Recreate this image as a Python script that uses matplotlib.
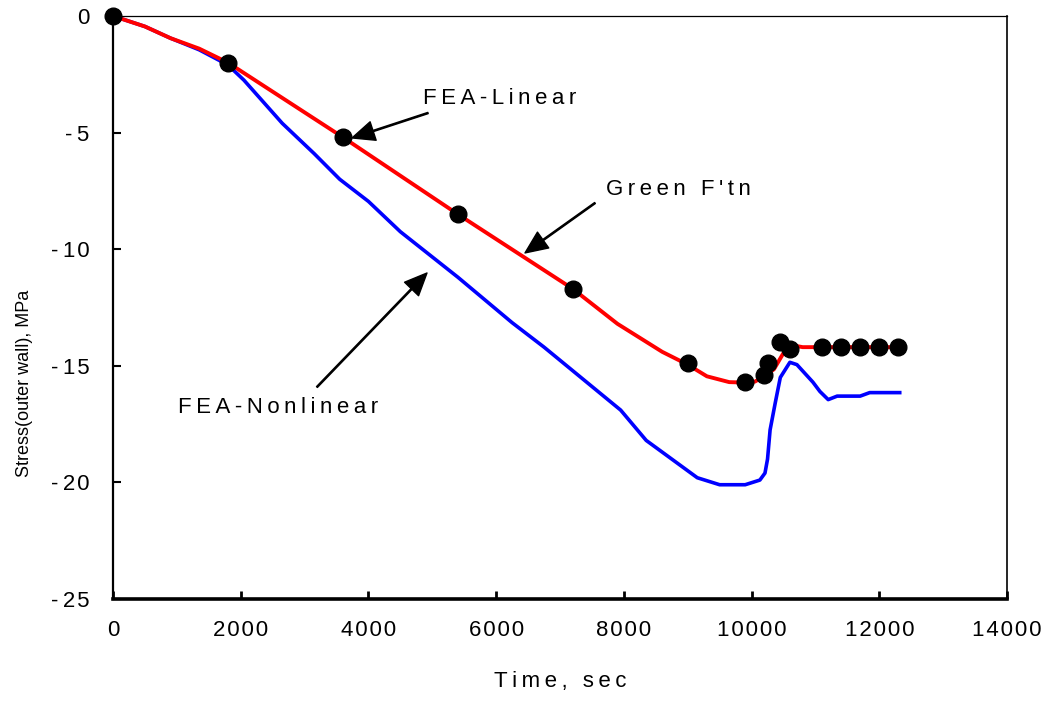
import matplotlib
matplotlib.use('Agg')
import matplotlib.pyplot as plt

plt.rcParams['font.family'] = ['Liberation Sans', 'DejaVu Sans']

THIN = '\u2009'
HAIR = '\u200a'


def spaced(s, sp=THIN):
    return sp.join(s)


# Green's function solution (markers)
t_green = [0, 1800, 3600, 5400, 7200, 9000, 9900, 10200, 10250, 10450, 10600,
           11100, 11400, 11700, 12000, 12300]
s_green = [0, -2.0, -5.2, -8.5, -11.7, -14.9, -15.7, -15.4, -14.9, -14.0, -14.3,
           -14.2, -14.2, -14.2, -14.2, -14.2]

# FEA linear
t_lin = [0, 500, 900, 1350, 1800, 2700, 3600, 4500, 5400, 6300, 7200, 7900,
         8600, 9000, 9300, 9650, 9900, 10050, 10200, 10350, 10500, 10600, 10800,
         11000, 12300]
s_lin = [0, -0.45, -0.95, -1.4, -2.0, -3.6, -5.2, -6.85, -8.5, -10.1, -11.7, -13.2,
         -14.4, -14.95, -15.45, -15.7, -15.72, -15.68, -15.45, -15.15, -14.45, -14.1,
         -14.2, -14.2, -14.2]

# FEA nonlinear
t_nl = [0, 500, 900, 1350, 1800, 2050, 2650, 3150, 3550, 4000, 4500, 5400, 6250,
        6750, 7950, 8350, 8600, 8850, 9150, 9500, 9900, 10130, 10210, 10250, 10290,
        10370, 10450, 10600, 10710, 10960, 11070, 11200, 11340, 11700, 11850, 12320]
s_nl = [0, -0.45, -0.95, -1.45, -2.1, -2.75, -4.6, -5.9, -7.0, -7.95, -9.25, -11.2,
        -13.15, -14.2, -16.9, -18.2, -18.7, -19.2, -19.8, -20.1, -20.1, -19.9, -19.6,
        -19.0, -17.75, -16.6, -15.5, -14.85, -14.95, -15.7, -16.1, -16.45, -16.3,
        -16.3, -16.15, -16.15]

x_ticks = [0, 2000, 4000, 6000, 8000, 10000, 12000, 14000]
y_ticks = [0, -5, -10, -15, -20, -25]

fig = plt.figure(figsize=(10.48, 7.01), dpi=100, facecolor='w')
ax = fig.add_axes([113 / 1048, 1 - 599 / 701, 894 / 1048, 583 / 701])

ax.plot(t_nl, s_nl, color='#0000ff', lw=2.6, zorder=3)
ax.plot(t_lin, s_lin, color='#ff0000', lw=2.8, zorder=4)
ax.plot(t_green, s_green, 'o', color='black', ms=12, zorder=5, clip_on=False)

ax.set_xlim(0, 14000)
ax.set_ylim(-25, 0)

ax.set_xticks(x_ticks)
ax.set_xticklabels([spaced(str(v), HAIR) for v in x_ticks])
ax.set_yticks(y_ticks)
ax.set_yticklabels(['0' if v == 0 else '-' + THIN + spaced(str(-v), HAIR) for v in y_ticks])
ax.tick_params(axis='x', direction='in', length=6, width=2, labelsize=16, pad=15)
ax.tick_params(axis='y', direction='in', length=6, width=1.5, labelsize=16, pad=17)

ax.spines['bottom'].set_linewidth(2.6)
ax.spines['left'].set_linewidth(1.6)
ax.spines['top'].set_linewidth(0.9)
ax.spines['right'].set_linewidth(1.2)

ax.set_xlabel(spaced('Time, sec'), fontsize=16, va='center')
ax.xaxis.set_label_coords(0.5, -0.1407)
ax.set_ylabel('Stress(outer wall), MPa', fontsize=13)
ax.yaxis.set_label_coords(-0.0895, 0.37)

arrow = dict(facecolor='black', edgecolor='black', width=0.9, headwidth=14,
             headlength=16, shrink=0)

ax.annotate('', xy=(3743, -5.23), xytext=(4933, -4.16), arrowprops=arrow)
ax.text(6060, -3.52, spaced('FEA-Linear'), fontsize=16, ha='center', va='center')

ax.annotate('', xy=(6452, -10.16), xytext=(7548, -8.02), arrowprops=arrow)
ax.text(8848, -7.46, spaced("Green F'tn"), fontsize=16, ha='center', va='center')

ax.annotate('', xy=(4917, -11.02), xytext=(3194, -15.91), arrowprops=arrow)
ax.text(2584, -16.77, spaced('FEA-Nonlinear'), fontsize=16, ha='center', va='center')

plt.savefig('out.png', dpi=100)
